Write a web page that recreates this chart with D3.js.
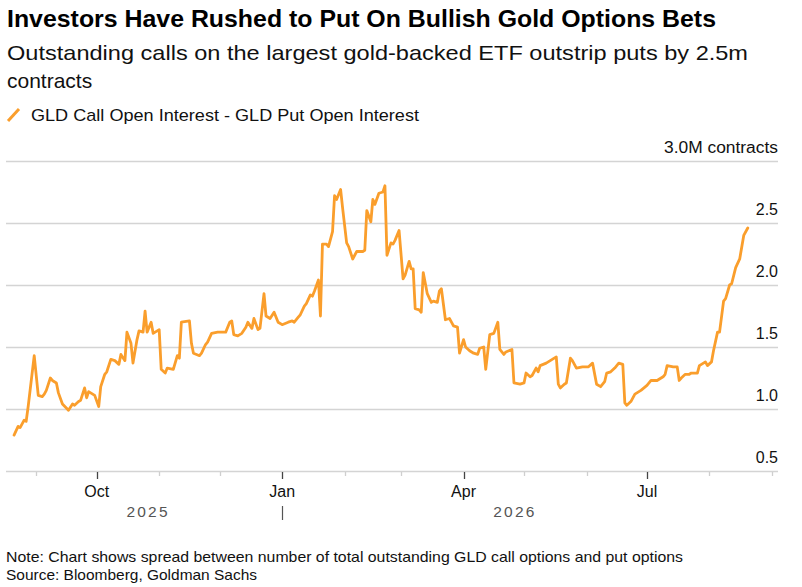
<!DOCTYPE html>
<html><head><meta charset="utf-8">
<script src="https://cdn.jsdelivr.net/npm/d3@7"></script>
<style>
body{margin:0;background:#fff}
svg{display:block}
text{font-family:"Liberation Sans",Arial,Helvetica,sans-serif}
</style>
</head><body>
<svg id="chart" width="802" height="587"></svg>
<script>
const titleText = "Investors Have Rushed to Put On Bullish Gold Options Bets";
const subtitleLines = ["Outstanding calls on the largest gold-backed ETF outstrip puts by 2.5m", "contracts"];
const legendLabel = "GLD Call Open Interest - GLD Put Open Interest";
const yTickValues = [0.5, 1.0, 1.5, 2.0, 2.5, 3.0];
const yUnitSuffix = "M contracts";
const labeledMonths = [9, 0, 3, 6]; // Oct, Jan, Apr, Jul (0-based month numbers)
const noteLines = ["Note: Chart shows spread between number of total outstanding GLD call options and put options",
                   "Source: Bloomberg, Goldman Sachs"];
const xDomain = ["2025-08-17", "2026-09-04"];

const dates = [
"2025-08-21","2025-08-23","2025-08-24","2025-08-26","2025-08-27","2025-08-28","2025-08-31",
"2025-09-02","2025-09-04","2025-09-05","2025-09-06","2025-09-08","2025-09-09","2025-09-11","2025-09-12","2025-09-14","2025-09-17","2025-09-19","2025-09-20","2025-09-22","2025-09-23","2025-09-25","2025-09-26","2025-09-27","2025-09-29","2025-09-30",
"2025-10-02","2025-10-03","2025-10-05","2025-10-06","2025-10-08","2025-10-10","2025-10-12","2025-10-13","2025-10-15","2025-10-16","2025-10-18","2025-10-19","2025-10-21","2025-10-22","2025-10-24","2025-10-25","2025-10-26","2025-10-28","2025-10-29",
"2025-11-01","2025-11-02","2025-11-04","2025-11-05","2025-11-08","2025-11-10","2025-11-11","2025-11-12","2025-11-16","2025-11-17","2025-11-18","2025-11-21","2025-11-22","2025-11-24","2025-11-25","2025-11-27","2025-11-30",
"2025-12-04","2025-12-06","2025-12-07","2025-12-08","2025-12-10","2025-12-12","2025-12-14","2025-12-15","2025-12-17","2025-12-18","2025-12-20","2025-12-21","2025-12-23","2025-12-24","2025-12-26","2025-12-28","2025-12-30",
"2026-01-01","2026-01-04","2026-01-06","2026-01-07","2026-01-09","2026-01-10","2026-01-12","2026-01-13","2026-01-15","2026-01-16","2026-01-17","2026-01-19","2026-01-20","2026-01-21","2026-01-23","2026-01-24","2026-01-26","2026-01-27","2026-01-28","2026-01-30","2026-01-31",
"2026-02-02","2026-02-03","2026-02-05","2026-02-07","2026-02-10","2026-02-11","2026-02-12","2026-02-14","2026-02-15","2026-02-16","2026-02-18","2026-02-20","2026-02-21","2026-02-22","2026-02-24","2026-02-25","2026-02-26","2026-02-28",
"2026-03-02","2026-03-03","2026-03-05","2026-03-06","2026-03-07","2026-03-08","2026-03-10","2026-03-11","2026-03-12","2026-03-14","2026-03-16","2026-03-17","2026-03-19","2026-03-20","2026-03-21","2026-03-23","2026-03-25","2026-03-26","2026-03-27","2026-03-29","2026-03-30",
"2026-04-01","2026-04-02","2026-04-04","2026-04-06","2026-04-08","2026-04-09","2026-04-11","2026-04-12","2026-04-14","2026-04-16","2026-04-18","2026-04-19","2026-04-21","2026-04-22","2026-04-25","2026-04-26","2026-04-29",
"2026-05-01","2026-05-02","2026-05-04","2026-05-05","2026-05-07","2026-05-08","2026-05-09","2026-05-12","2026-05-17","2026-05-18","2026-05-19","2026-05-21","2026-05-22","2026-05-24","2026-05-25","2026-05-27","2026-05-30",
"2026-06-02","2026-06-04","2026-06-06","2026-06-08","2026-06-10","2026-06-11","2026-06-13","2026-06-15","2026-06-17","2026-06-19","2026-06-20","2026-06-21","2026-06-23","2026-06-25","2026-06-28",
"2026-07-01","2026-07-03","2026-07-06","2026-07-09","2026-07-10","2026-07-11","2026-07-14","2026-07-16","2026-07-17","2026-07-18","2026-07-20","2026-07-22","2026-07-23","2026-07-26","2026-07-27","2026-07-29","2026-07-30","2026-07-31",
"2026-08-02","2026-08-03","2026-08-05","2026-08-06","2026-08-08","2026-08-09","2026-08-11","2026-08-12","2026-08-14","2026-08-16","2026-08-18","2026-08-20"
];
const values = [
0.79,0.86,0.85,0.91,0.90,1.02,1.43,
1.11,1.10,1.12,1.15,1.25,1.23,1.21,1.13,1.04,0.99,1.04,1.03,1.06,1.07,1.17,1.09,1.14,1.12,1.11,
1.02,1.18,1.28,1.30,1.40,1.39,1.36,1.44,1.39,1.62,1.53,1.37,1.56,1.63,1.62,1.79,1.62,1.70,1.61,
1.64,1.32,1.29,1.33,1.32,1.43,1.41,1.70,1.71,1.53,1.45,1.43,1.45,1.52,1.54,1.61,1.62,
1.62,1.70,1.71,1.60,1.59,1.61,1.66,1.70,1.65,1.73,1.64,1.65,1.93,1.75,1.73,1.78,1.70,
1.68,1.70,1.71,1.70,1.74,1.76,1.83,1.85,1.92,1.91,1.95,2.04,1.75,2.33,2.33,2.31,2.43,2.72,2.69,2.77,2.62,
2.34,2.31,2.21,2.27,2.27,2.28,2.60,2.51,2.69,2.65,2.74,2.75,2.80,2.24,2.34,2.33,2.36,2.44,
2.05,2.08,2.19,2.13,2.13,1.81,1.80,1.78,2.10,1.93,1.86,1.87,1.86,1.95,1.97,1.72,1.73,1.70,1.67,1.66,1.45,
1.56,1.50,1.47,1.45,1.44,1.49,1.50,1.32,1.60,1.61,1.70,1.48,1.44,1.46,1.48,1.21,1.20,
1.21,1.29,1.26,1.27,1.33,1.30,1.35,1.37,1.42,1.20,1.17,1.20,1.21,1.41,1.39,1.33,1.34,
1.34,1.37,1.20,1.18,1.22,1.29,1.30,1.33,1.37,1.36,1.05,1.03,1.06,1.12,1.15,
1.19,1.23,1.23,1.26,1.28,1.35,1.34,1.34,1.23,1.25,1.28,1.28,1.29,1.29,1.35,1.37,1.38,1.35,
1.38,1.47,1.62,1.62,1.87,1.89,2.00,2.01,2.14,2.21,2.40,2.46
];

const lineColor = "#fa9e2c";
const parseDate = d3.utcParse("%Y-%m-%d");
const series = dates.map((d, i) => ({date: parseDate(d), value: values[i]}));

const svg = d3.select("#chart");
const plotLeft = 6, plotRight = 778, plotTop = 161, plotBottom = 471;

const xScale = d3.scaleUtc().domain(xDomain.map(parseDate)).range([plotLeft, plotRight]);
const yScale = d3.scaleLinear().domain([0.5, 3.0]).range([plotBottom, plotTop]);

function fitWidth(sel, w) { sel.attr("textLength", w).attr("lengthAdjust", "spacingAndGlyphs"); return sel; }

// Title & subtitle
fitWidth(svg.append("text").attr("x", 7).attr("y", 27).attr("font-size", 24).attr("font-weight", "bold")
  .attr("fill", "#000").text(titleText), 709);
subtitleLines.forEach((t, i) => {
  const s = svg.append("text").attr("x", 7).attr("y", 60 + i * 28).attr("font-size", 21)
    .attr("fill", "#111").text(t);
  if (i === 0) fitWidth(s, 741);
});

// Legend
svg.append("line").attr("x1", 8).attr("y1", 121).attr("x2", 19).attr("y2", 109)
  .attr("stroke", lineColor).attr("stroke-width", 3);
fitWidth(svg.append("text").attr("x", 31).attr("y", 121).attr("font-size", 17).attr("fill", "#111")
  .text(legendLabel), 388);

// Grid and y labels
const yMax = d3.max(yTickValues);
const yAxis = d3.axisRight(yScale).tickValues(yTickValues).tickSize(plotRight - plotLeft)
  .tickFormat(d => d.toFixed(1) + (d === yMax ? yUnitSuffix : ""));
const gy = svg.append("g").attr("transform", `translate(${plotLeft},0)`).call(yAxis);
gy.attr("font-family", null).attr("font-size", null);
gy.select(".domain").remove();
gy.selectAll(".tick line").attr("stroke", "#d4d4d4").attr("stroke-width", 1.3);
gy.selectAll(".tick text").attr("x", plotRight - plotLeft).attr("dy", -8.5).attr("text-anchor", "end")
  .attr("font-size", 16).attr("fill", "#111");
gy.selectAll(".tick text").filter(d => d === yMax).call(s => fitWidth(s, 114));

// X axis: monthly ticks
const months = xScale.ticks(d3.utcMonth.every(1));
const isMajor = d => labeledMonths.includes(d.getUTCMonth());
svg.append("g").selectAll("line").data(months).join("line")
  .attr("x1", d => Math.round(xScale(d)) + 0.5).attr("x2", d => Math.round(xScale(d)) + 0.5)
  .attr("y1", plotBottom + 1).attr("y2", d => isMajor(d) ? plotBottom + 8 : plotBottom + 5)
  .attr("stroke", d => isMajor(d) ? "#444" : "#cfcfcf").attr("stroke-width", 1.3);
svg.append("g").selectAll("text").data(months.filter(isMajor)).join("text")
  .attr("x", d => xScale(d)).attr("y", 497).attr("text-anchor", "middle").attr("font-size", 16)
  .attr("fill", "#111").text(d3.utcFormat("%b"));

// Year labels centered over the data span inside each year
const dataExtent = d3.extent(series, d => d.date);
const years = d3.utcYears(d3.utcYear.floor(dataExtent[0]), dataExtent[1]);
years.forEach((yr, i) => {
  const s = d3.max([yr, dataExtent[0]]);
  const e = d3.min([d3.utcYear.offset(yr, 1), dataExtent[1]]);
  svg.append("text").attr("x", (xScale(s) + xScale(e)) / 2).attr("y", 517).attr("text-anchor", "middle")
    .attr("font-size", 15.5).attr("letter-spacing", 2.2).attr("fill", "#555").text(d3.utcFormat("%Y")(yr));
  if (i > 0) {
    svg.append("line").attr("x1", Math.round(xScale(yr)) + 0.5).attr("x2", Math.round(xScale(yr)) + 0.5)
      .attr("y1", 506).attr("y2", 520).attr("stroke", "#555").attr("stroke-width", 1.2);
  }
});

// Line
svg.append("path").datum(series)
  .attr("fill", "none").attr("stroke", lineColor).attr("stroke-width", 2.8)
  .attr("stroke-linejoin", "round").attr("stroke-linecap", "round")
  .attr("d", d3.line().x(d => xScale(d.date)).y(d => yScale(d.value)));

// Notes
fitWidth(svg.append("text").attr("x", 6).attr("y", 562).attr("font-size", 14.5).attr("fill", "#111")
  .text(noteLines[0]), 677);
fitWidth(svg.append("text").attr("x", 6).attr("y", 580).attr("font-size", 14.5).attr("fill", "#111")
  .text(noteLines[1]), 251);
</script>
</body></html>
